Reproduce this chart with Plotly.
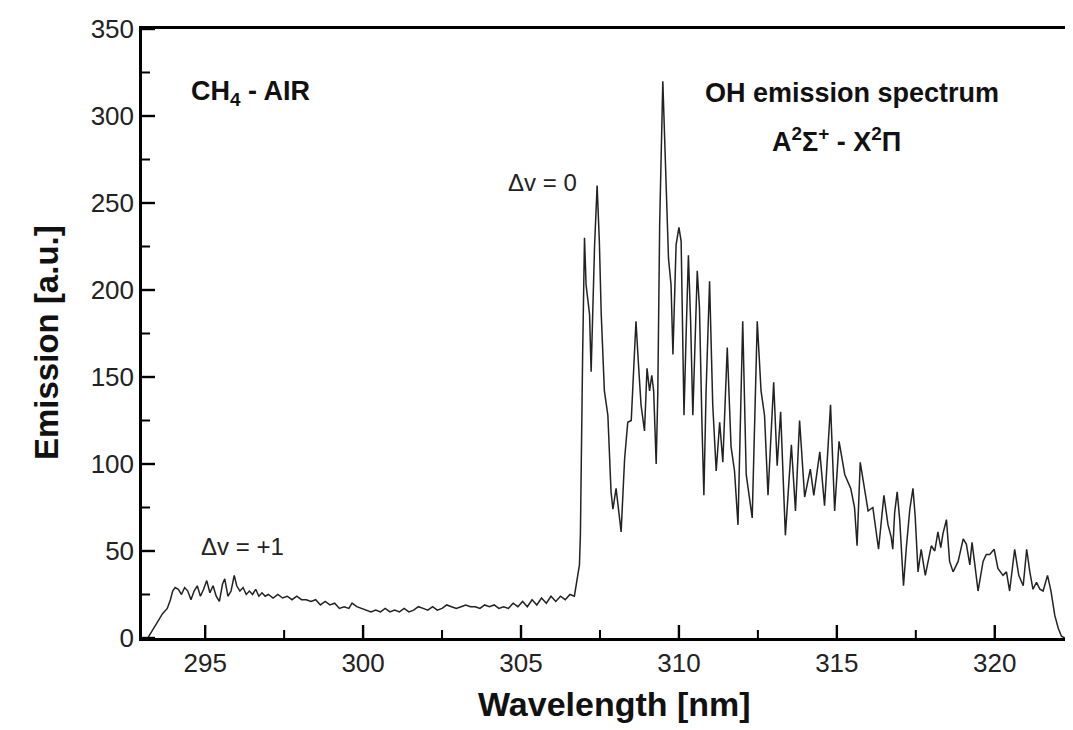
import plotly.graph_objects as go

# Wavelength (nm) and emission (a.u.)
wavelength_nm = [
    293.20, 293.35, 293.50, 293.65, 293.80, 293.90, 293.97, 294.05, 294.15, 294.25,
    294.35, 294.45, 294.55, 294.65, 294.75, 294.85, 294.95, 295.05, 295.15, 295.25,
    295.35, 295.45, 295.55, 295.62, 295.72, 295.82, 295.92, 296.00, 296.10, 296.20,
    296.30, 296.40, 296.50, 296.60, 296.70, 296.80, 296.90, 297.00, 297.15, 297.30,
    297.45, 297.60, 297.75, 297.90, 298.05, 298.20, 298.35, 298.50, 298.65, 298.80,
    298.95, 299.10, 299.25, 299.40, 299.55, 299.65, 299.80, 299.95, 300.10, 300.25,
    300.40, 300.55, 300.70, 300.85, 301.00, 301.15, 301.30, 301.45, 301.60, 301.75,
    301.90, 302.05, 302.20, 302.35, 302.50, 302.65, 302.80, 302.95, 303.10, 303.25,
    303.40, 303.55, 303.70, 303.85, 304.00, 304.15, 304.30, 304.45, 304.60, 304.75,
    304.90, 305.05, 305.20, 305.35, 305.50, 305.65, 305.80, 305.95, 306.10, 306.25,
    306.40, 306.55, 306.69, 306.74, 306.85, 306.88, 306.90, 306.95, 307.01, 307.06,
    307.17, 307.22, 307.33, 307.41, 307.48, 307.54, 307.64, 307.75, 307.85, 307.91,
    308.01, 308.09, 308.17, 308.28, 308.38, 308.49, 308.54, 308.64, 308.72, 308.80,
    308.91, 308.99, 309.07, 309.14, 309.20, 309.28, 309.33, 309.39, 309.49, 309.60,
    309.67, 309.75, 309.81, 309.91, 310.00, 310.07, 310.16, 310.23, 310.30, 310.37,
    310.44, 310.58, 310.65, 310.73, 310.79, 310.86, 310.97, 311.07, 311.18, 311.29,
    311.39, 311.53, 311.65, 311.76, 311.87, 312.02, 312.13, 312.32, 312.48, 312.60,
    312.71, 312.82, 313.00, 313.11, 313.22, 313.37, 313.56, 313.69, 313.82, 313.98,
    314.16, 314.27, 314.46, 314.61, 314.80, 314.93, 315.07, 315.25, 315.44, 315.56,
    315.64, 315.74, 315.88, 315.99, 316.14, 316.32, 316.49, 316.62, 316.72, 316.77,
    316.83, 316.91, 316.99, 317.11, 317.20, 317.31, 317.41, 317.48, 317.57, 317.67,
    317.80, 317.99, 318.10, 318.20, 318.29, 318.36, 318.47, 318.57, 318.68, 318.84,
    319.00, 319.10, 319.21, 319.28, 319.37, 319.47, 319.63, 319.73, 319.84, 319.98,
    320.10, 320.26, 320.37, 320.47, 320.63, 320.76, 320.90, 321.01, 321.11, 321.21,
    321.32, 321.43, 321.53, 321.67, 321.78, 321.90, 322.01, 322.11, 322.22, 322.73,
]

emission_au = [
    0.5, 5, 10, 14, 17, 22, 27, 29, 28, 25,
    29, 27, 22, 27, 30, 24, 28, 33, 26, 30,
    24, 21, 31, 34, 24, 27, 36, 30, 27, 29,
    25, 27, 25, 28, 24, 26, 24, 25, 23, 25,
    23, 24, 22, 24, 22, 22, 21, 22, 19, 21,
    19, 20, 17, 18, 17, 20, 18, 17, 16, 15,
    16, 15, 17, 15, 16, 15, 17, 15, 16, 18,
    17, 16, 18, 16, 17, 19, 18, 17, 18, 19,
    18, 18, 17, 19, 18, 19, 17, 18, 17, 20,
    18, 21, 18, 22, 19, 23, 20, 24, 21, 24,
    22, 25, 24, 30, 42, 59, 94, 161, 230, 203,
    186, 153, 226, 260, 228, 186, 142, 128, 84, 74,
    86, 74, 61, 103, 124, 125, 142, 182, 157, 134,
    119, 155, 142, 151, 142, 100, 140, 238, 320, 253,
    218, 203, 163, 226, 236, 228, 128, 176, 220, 182,
    128, 211, 190, 122, 82, 142, 205, 134, 96, 124,
    101, 167, 110, 96, 65, 182, 94, 69, 182, 142,
    128, 82, 147, 99, 130, 59, 111, 73, 125, 81,
    97, 82, 107, 76, 134, 73, 113, 94, 86, 75,
    53, 101, 84, 73, 75, 51, 82, 65, 58, 51,
    72, 84, 68, 30, 52, 74, 86, 70, 38, 51,
    36, 53, 50, 61, 52, 60, 68, 44, 38, 44,
    57, 54, 42, 55, 42, 27, 44, 48, 48, 51,
    40, 36, 38, 27, 51, 36, 30, 51, 38, 28,
    32, 28, 27, 36, 27, 13, 5.6, 1, 0, 0,
]

x_major_ticks = [295, 300, 305, 310, 315, 320]
x_minor_ticks = [297.5, 302.5, 307.5, 312.5, 317.5, 322.5]
y_major_ticks = [0, 50, 100, 150, 200, 250, 300, 350]
y_minor_ticks = [25, 75, 125, 175, 225, 275, 325]

X_RANGE = [293, 322.73]
Y_RANGE = [0, 350]
FONT = "Liberation Sans, Arial, sans-serif"

W, H = 1073, 730
M_L, M_R, M_T, M_B = 134, 0, 21, 100
PLOT_W = W - M_L - M_R
PLOT_H = H - M_T - M_B
X_PER_PX = (X_RANGE[1] - X_RANGE[0]) / PLOT_W
Y_PER_PX = (Y_RANGE[1] - Y_RANGE[0]) / PLOT_H
MAJOR_LEN, MINOR_LEN = 13, 8


def x_tick_segments(vals, length_px):
    xs, ys = [], []
    for v in vals:
        xs += [v, v, None]
        ys += [Y_RANGE[0], Y_RANGE[0] + length_px * Y_PER_PX, None]
    return xs, ys


def y_tick_segments(vals, length_px):
    xs, ys = [], []
    for v in vals:
        xs += [X_RANGE[0], X_RANGE[0] + length_px * X_PER_PX, None]
        ys += [v, v, None]
    return xs, ys


fig = go.Figure()
fig.add_trace(go.Scatter(
    x=wavelength_nm, y=emission_au, mode="lines",
    line=dict(color="#222222", width=1.5),
    showlegend=False, hoverinfo="skip",
))

# inward tick marks, built from the tick value lists
for vals, length, fn, width in [
    (x_major_ticks, MAJOR_LEN, x_tick_segments, 2.4),
    (x_minor_ticks, MINOR_LEN, x_tick_segments, 2.0),
    (y_major_ticks, MAJOR_LEN, y_tick_segments, 2.4),
    (y_minor_ticks, MINOR_LEN, y_tick_segments, 2.0),
]:
    tx, ty = fn(vals, length)
    fig.add_trace(go.Scatter(
        x=tx, y=ty, mode="lines", line=dict(color="black", width=width),
        showlegend=False, hoverinfo="skip", cliponaxis=False,
    ))

fig.update_layout(
    width=W, height=H,
    margin=dict(l=M_L, r=M_R, t=M_T, b=M_B),
    paper_bgcolor="white", plot_bgcolor="white",
    xaxis=dict(
        range=X_RANGE, tickmode="array", tickvals=x_major_ticks, ticks="",
        showline=True, linewidth=2.5, linecolor="black", mirror=True,
        showgrid=False, zeroline=False,
        tickfont=dict(size=26, family=FONT, color="#222222"),
    ),
    yaxis=dict(
        range=Y_RANGE, tickmode="array", tickvals=y_major_ticks, ticks="",
        showline=True, linewidth=2.5, linecolor="black",
        showgrid=False, zeroline=False,
        tickfont=dict(size=26, family=FONT, color="#222222"),
    ),
)

annotations = [
    dict(text="<b>Emission [a.u.]</b>", xref="paper", yref="paper",
         x=(38 - M_L) / PLOT_W, y=(M_T + PLOT_H - 335) / PLOT_H, textangle=-90,
         font=dict(size=33, family=FONT, color="#111111"), showarrow=False,
         xanchor="center", yanchor="middle"),
    dict(text="<b>Wavelength [nm]</b>", xref="paper", yref="paper",
         x=(606 - M_L) / PLOT_W, y=-(696 - (M_T + PLOT_H)) / PLOT_H,
         font=dict(size=34, family=FONT, color="#111111"), showarrow=False,
         xanchor="center", yanchor="middle"),
    dict(text="<b>CH<sub>4</sub> - AIR</b>", x=294.5, y=313, xref="x", yref="y",
         font=dict(size=27, family=FONT, color="#111111"), showarrow=False,
         xanchor="left", yanchor="middle"),
    dict(text="<b>OH emission spectrum</b>", x=310.76, y=313, xref="x", yref="y",
         font=dict(size=27, family=FONT, color="#111111"), showarrow=False,
         xanchor="left", yanchor="middle"),
    dict(text="<b>A<sup>2</sup>Σ<sup>+</sup> - X<sup>2</sup>Π</b>", x=312.88, y=286, xref="x", yref="y",
         font=dict(size=27, family=FONT, color="#111111"), showarrow=False,
         xanchor="left", yanchor="middle"),
    dict(text="Δv = 0", x=304.52, y=261.5, xref="x", yref="y",
         font=dict(size=24, family=FONT, color="#222222"), showarrow=False,
         xanchor="left", yanchor="middle"),
    dict(text="Δv = +1", x=294.82, y=52.7, xref="x", yref="y",
         font=dict(size=24, family=FONT, color="#222222"), showarrow=False,
         xanchor="left", yanchor="middle"),
]
fig.update_layout(annotations=annotations)

fig.write_html("out.html")
